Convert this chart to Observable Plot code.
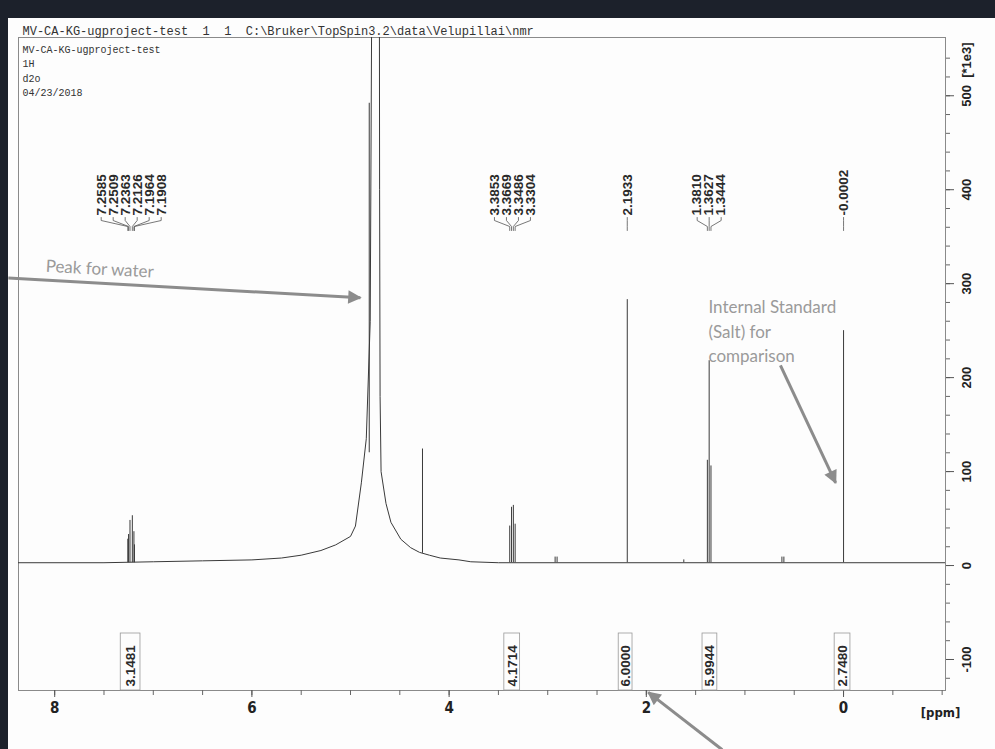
<!DOCTYPE html>
<html><head><meta charset="utf-8">
<script src="https://cdn.jsdelivr.net/npm/d3@7"></script>
<script src="https://cdn.jsdelivr.net/npm/@observablehq/plot@0.6"></script>
<style>
html,body{margin:0;padding:0;background:#1c212b;width:995px;height:749px;overflow:hidden}
#page{position:absolute;left:8px;top:18px;width:987px;height:731px;background:#fdfdfd}
svg{overflow:visible}
</style></head><body><div id="page"></div>
<script>
// ---------- data ----------
const headerText = "MV-CA-KG-ugproject-test  1  1  C:\\Bruker\\TopSpin3.2\\data\\Velupillai\\nmr";
const infoLines = ["MV-CA-KG-ugproject-test", "1H", "d2o", "04/23/2018"];

// broad baseline / water hump (ppm, intensity *1e3)
const basePpm = [8.37, 7.5, 7.0, 6.5, 6.0, 5.7, 5.5, 5.3, 5.15, 5.0, 4.95, 4.89, 4.84, 4.80, 4.785, 4.78, 4.71, 4.705, 4.70, 4.69, 4.64, 4.59, 4.49, 4.39, 4.30, 4.2, 4.09, 3.9, 3.78, 3.5, -1.04];
const baseInt = [3, 3, 4, 5, 6, 8, 11, 16, 22, 31, 42, 88, 135, 260, 600, 900, 900, 400, 180, 100, 66, 46, 28, 19, 14, 11, 8, 6, 4, 3, 3];

// sharp lines (ppm, base, top)
const peakPpm = [7.2585, 7.2509, 7.2363, 7.2126, 7.1964, 7.1908, 4.81, 4.27, 3.3853, 3.3669, 3.3486, 3.3304, 2.925, 2.905, 2.1933, 1.62, 1.3810, 1.3627, 1.3444, 0.625, 0.605, -0.0002];
const peakBase = [3, 3, 3, 3, 3, 3, 120, 13, 3, 3, 3, 3, 3, 3, 3, 3, 3, 3, 3, 3, 3, 3];
const peakTop = [28, 33, 48, 53, 36, 22, 492, 124, 42, 62, 64, 44, 9, 9, 283, 6, 112, 218, 106, 9, 9, 250];

// peak-pick labels, grouped as printed
const pickGroups = [
  ["7.2585", "7.2509", "7.2363", "7.2126", "7.1964", "7.1908"],
  ["3.3853", "3.3669", "3.3486", "3.3304"],
  ["2.1933"],
  ["1.3810", "1.3627", "1.3444"],
  ["-0.0002"]
];

// integrals
const integralFrom = [7.33, 3.44, 2.28, 1.43, 0.09];
const integralTo = [7.13, 3.28, 2.14, 1.28, -0.07];
const integralText = ["3.1481", "4.1714", "6.0000", "5.9944", "2.7480"];

// axes
const xTickLabels = [8, 6, 4, 2, 0];
const xMinorTicks = d3.range(-1, 8.01, 0.5);
const yTickLabels = [500, 400, 300, 200, 100, 0, -100];
const yMinorTicks = d3.range(-120, 541, 20);

// annotations
const annText = ["Peak for water", "Internal Standard\n(Salt) for\ncomparison"];
const annTextPpm = [8.09, 1.37];
const annTextInt = [321, 251];
const annRotate = [3, 0];
const arrowFromPpm = [8.47, 0.64, 1.23];
const arrowFromInt = [306, 213, -196];
const arrowToPpm = [4.90, 0.08, 1.98];
const arrowToInt = [285, 88, -135];

// ---------- layout ----------
const W = 987, H = 731;
const mL = 10, mR = 50, mT = 19, mB = 59;
const xDomain = [8.367, -1.034];
const yDomain = [-133, 562];
const xS = Plot.scale({x: {domain: xDomain, range: [mL, W - mR]}});
const yS = Plot.scale({y: {domain: yDomain, range: [H - mB, mT]}});
const pxPerPpm = (W - mR - mL) / (xDomain[0] - xDomain[1]);
const pageY = (p) => yS.invert(p - 18); // page pixel row -> intensity

const baseline = basePpm.map((p, i) => ({ppm: p, v: baseInt[i]}));
const peaks = peakPpm.map((p, i) => ({ppm: p, b: peakBase[i], t: peakTop[i]}));

const labelRows = [];
const leaderRows = [];
pickGroups.forEach((g, gi) => {
  const vals = g.map(Number);
  const center = d3.mean(vals);
  const n = g.length;
  g.forEach((s, i) => {
    const lp = center + ((n - 1) / 2 - i) * 12 / pxPerPpm;
    labelRows.push({ppm: lp, text: s});
    const id = gi + "-" + i;
    leaderRows.push({id, ppm: lp, v: pageY(217)});
    leaderRows.push({id, ppm: lp, v: pageY(220)});
    leaderRows.push({id, ppm: vals[i], v: pageY(226)});
    leaderRows.push({id, ppm: vals[i], v: pageY(230)});
  });
});

const integrals = integralText.map((t, i) => ({x1: integralFrom[i], x2: integralTo[i], xm: (integralFrom[i] + integralTo[i]) / 2, text: t}));
const anns = annText.map((t, i) => ({text: t, ppm: annTextPpm[i], v: annTextInt[i], r: annRotate[i]}));
const arrows = arrowFromPpm.map((p, i) => ({x1: p, y1: arrowFromInt[i], x2: arrowToPpm[i], y2: arrowToInt[i]}));

const sans = "'Liberation Sans', Arial, sans-serif";
const narrow = "'Liberation Sans Narrow', 'DejaVu Sans Condensed', 'Liberation Sans', sans-serif";
const mono = "'Liberation Mono', 'Courier New', monospace";
const lato = "Lato, 'Open Sans', sans-serif";

const plot = Plot.plot({
  width: W, height: H,
  marginLeft: mL, marginRight: mR, marginTop: mT, marginBottom: mB,
  style: {background: "transparent", color: "#333", fontFamily: sans},
  x: {domain: xDomain, axis: null},
  y: {domain: yDomain, axis: null},
  marks: [
    Plot.frame({stroke: "#8a8a8a", strokeWidth: 1}),
    // x axis ticks
    Plot.axisX({ticks: xMinorTicks, tickSize: 5, tickFormat: () => "", stroke: "#666"}),
    Plot.axisX({ticks: xTickLabels, tickSize: 7, tickPadding: 5, stroke: "#555",
      fontSize: 15, fontWeight: "bold", fontFamily: narrow, fill: "#222"}),
    Plot.text(["[ppm]"], {frameAnchor: "bottom-right", dx: -5, dy: 26, fontSize: 13, fontWeight: "bold", fontFamily: narrow, fill: "#222", textAnchor: "middle"}),
    // y axis (right)
    Plot.axisY({anchor: "right", ticks: yMinorTicks, tickSize: 4, tickFormat: () => "", stroke: "#666"}),
    Plot.axisY({anchor: "right", ticks: yTickLabels, tickSize: 8, tickFormat: () => "", stroke: "#555"}),
    Plot.text(yTickLabels.filter(d => d !== 500), {frameAnchor: "right", y: d => d, text: d => String(d), dx: 21, rotate: -90,
      textAnchor: "middle", fontSize: 13, fontWeight: "bold", fill: "#222"}),
    Plot.text([500], {frameAnchor: "right", y: d => d, text: () => "500  [*1e3]", dx: 21, dy: 11, rotate: -90,
      textAnchor: "start", fontSize: 13, fontWeight: "bold", fill: "#222"}),
    // header and info
    Plot.text([headerText], {frameAnchor: "top-left", dx: 4, dy: -11, textAnchor: "start", fontFamily: mono, fontSize: 12, fill: "#333"}),
    Plot.text([infoLines.join("\n")], {frameAnchor: "top-left", dx: 4, dy: 5, textAnchor: "start", lineAnchor: "top", lineHeight: 1.45, fontFamily: mono, fontSize: 10, fill: "#333"}),
    // spectrum
    Plot.line(baseline, {x: "ppm", y: "v", stroke: "#3a3a3a", strokeWidth: 1, clip: true}),
    Plot.ruleX(peaks, {x: "ppm", y1: "b", y2: "t", stroke: "#3a3a3a", strokeWidth: 1, clip: true}),
    // peak pick labels
    Plot.text(labelRows, {x: "ppm", y: () => pageY(215), text: "text", rotate: -90, textAnchor: "start", lineAnchor: "middle",
      fontSize: 13.5, fontWeight: "bold", fill: "#2a2a2a"}),
    Plot.line(leaderRows, {x: "ppm", y: "v", z: "id", stroke: "#555", strokeWidth: 0.8}),
    // integrals
    Plot.rect(integrals, {x1: "x1", x2: "x2", y1: yDomain[0], y2: () => pageY(633), stroke: "#999", fill: "none", strokeWidth: 0.8}),
    Plot.text(integrals, {x: "xm", y: () => pageY(686), text: "text", rotate: -90, textAnchor: "start", lineAnchor: "middle",
      fontSize: 13.5, fontWeight: "bold", fill: "#2a2a2a"}),
    // annotations
    Plot.link(arrows, {x1: "x1", y1: "y1", x2: "x2", y2: "y2", stroke: "#8c8c8c", strokeWidth: 3}),
    Plot.text(anns, {x: "ppm", y: "v", text: "text", rotate: "r", textAnchor: "start", lineAnchor: "middle", lineHeight: 1.45,
      fontFamily: lato, fontSize: 17, fill: "#9a9a9a"})
  ]
});

document.getElementById("page").appendChild(plot);

// filled triangular arrowheads for annotation arrows
const svg = d3.select(plot.tagName === "svg" ? plot : plot.querySelector("svg"));
svg.append("defs").append("marker")
  .attr("id", "tri").attr("viewBox", "0 0 10 10").attr("refX", 9).attr("refY", 5)
  .attr("markerWidth", 5.5).attr("markerHeight", 4.5).attr("orient", "auto")
  .append("path").attr("d", "M0,0L10,5L0,10z").attr("fill", "#8c8c8c");
svg.selectAll('g[aria-label="link"] path').attr("marker-end", "url(#tri)");
</script>
</body></html>
